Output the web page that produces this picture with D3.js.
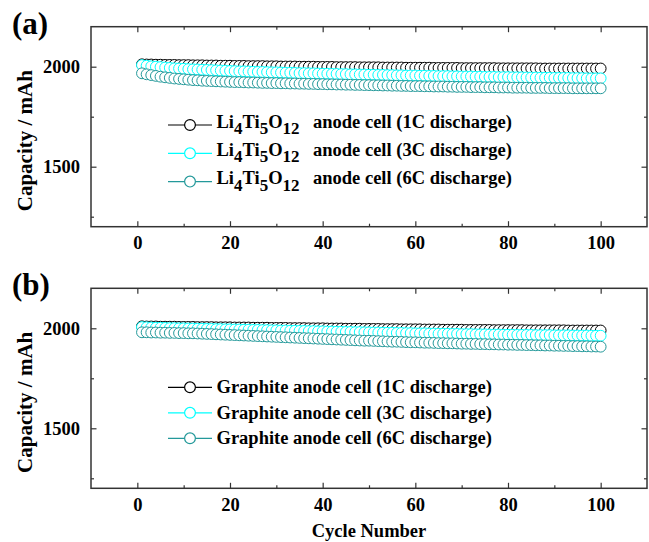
<!DOCTYPE html>
<html>
<head>
<meta charset="utf-8">
<script src="https://cdn.jsdelivr.net/npm/d3@7"></script>
<style>
  html, body { margin: 0; padding: 0; background: #fff; }
  svg text { font-family: "Liberation Serif", "Times New Roman", serif; font-weight: bold; fill: #000; }
</style>
</head>
<body>
<svg id="chart" width="649" height="542"></svg>
<script>
// ---------------- data ----------------
const cycles = d3.range(1, 101);

const xTicksMajor = [0, 20, 40, 60, 80, 100];
const xTicksMinor = [10, 30, 50, 70, 90];
const yTicksMajor = [1500, 2000];
const yTicksMinor = [1250, 1750];

const panelLabels = ["(a)", "(b)"];
const seriesColors = ["#000000", "#00ffff", "#23999a"];
const rateLabels = ["(1C discharge)", "(3C discharge)", "(6C discharge)"];

// Panel (a): Li4Ti5O12 anode cell
const ltoC1 = [
  2012,2011,2011,2010,2010,2009,2009,2009,2008,2008,
  2008,2007,2007,2007,2006,2006,2006,2005,2005,2005,
  2004,2004,2004,2003,2003,2003,2003,2002,2002,2002,
  2001,2001,2001,2001,2000,2000,2000,2000,1999,1999,
  1999,1999,1998,1998,1998,1998,1998,1997,1997,1997,
  1997,1997,1996,1996,1996,1996,1996,1995,1995,1995,
  1995,1995,1995,1994,1994,1994,1994,1994,1994,1993,
  1993,1993,1993,1993,1993,1993,1993,1992,1992,1992,
  1992,1992,1992,1992,1992,1992,1991,1991,1991,1991,
  1991,1991,1991,1991,1991,1991,1991,1991,1991,1991
];
const ltoC3 = [
  2008,2005,2002,2000,1998,1996,1994,1992,1991,1990,
  1988,1987,1986,1985,1984,1983,1982,1981,1980,1979,
  1978,1977,1977,1976,1975,1974,1974,1973,1972,1972,
  1971,1970,1970,1969,1968,1968,1967,1967,1966,1965,
  1965,1964,1964,1963,1963,1962,1962,1961,1961,1960,
  1960,1959,1959,1958,1958,1957,1957,1956,1956,1956,
  1955,1955,1954,1954,1953,1953,1953,1952,1952,1951,
  1951,1951,1950,1950,1949,1949,1949,1948,1948,1948,
  1947,1947,1947,1946,1946,1946,1945,1945,1945,1944,
  1944,1944,1944,1943,1943,1943,1942,1942,1942,1942
];
const ltoC6 = [
  1967,1962,1958,1954,1950,1947,1944,1941,1939,1937,
  1935,1933,1932,1930,1929,1928,1927,1926,1925,1924,
  1923,1923,1922,1921,1921,1920,1919,1919,1918,1918,
  1917,1917,1916,1916,1915,1915,1914,1914,1913,1913,
  1912,1912,1911,1911,1910,1910,1909,1909,1908,1908,
  1907,1907,1906,1906,1905,1905,1904,1904,1903,1903,
  1903,1902,1902,1901,1901,1901,1900,1900,1899,1899,
  1899,1898,1898,1898,1897,1897,1897,1896,1896,1896,
  1895,1895,1895,1895,1894,1894,1894,1894,1893,1893,
  1893,1893,1893,1892,1892,1892,1892,1892,1892,1892
];

// Panel (b): Graphite anode cell
const grC1 = [
  2010,2009,2009,2009,2008,2008,2008,2008,2007,2007,
  2007,2007,2006,2006,2006,2006,2005,2005,2005,2005,
  2004,2004,2004,2004,2003,2003,2003,2003,2002,2002,
  2002,2002,2001,2001,2001,2001,2000,2000,2000,2000,
  1999,1999,1999,1999,1998,1998,1998,1998,1997,1997,
  1997,1997,1996,1996,1996,1996,1995,1995,1995,1995,
  1995,1994,1994,1994,1994,1993,1993,1993,1993,1993,
  1992,1992,1992,1992,1992,1992,1991,1991,1991,1991,
  1991,1991,1991,1990,1990,1990,1990,1990,1990,1990,
  1990,1990,1989,1989,1989,1989,1989,1989,1989,1989
];
const grC3 = [
  2006,2005,2004,2003,2003,2002,2001,2001,2000,2000,
  1999,1999,1998,1998,1997,1997,1996,1996,1995,1995,
  1994,1994,1993,1993,1992,1992,1991,1991,1990,1990,
  1989,1989,1988,1988,1987,1987,1986,1986,1985,1985,
  1984,1984,1983,1983,1982,1982,1981,1981,1980,1980,
  1979,1979,1978,1978,1978,1977,1977,1976,1976,1975,
  1975,1975,1974,1974,1973,1973,1973,1972,1972,1971,
  1971,1971,1970,1970,1970,1969,1969,1969,1968,1968,
  1968,1967,1967,1967,1967,1966,1966,1966,1966,1965,
  1965,1965,1965,1964,1964,1964,1964,1963,1963,1963
];
const grC6 = [
  1980,1980,1979,1979,1978,1978,1977,1977,1976,1976,
  1975,1975,1974,1973,1972,1971,1970,1969,1968,1967,
  1966,1965,1964,1963,1962,1961,1960,1959,1958,1957,
  1956,1955,1954,1953,1952,1951,1950,1949,1948,1947,
  1946,1945,1944,1943,1942,1941,1940,1939,1938,1938,
  1937,1936,1935,1934,1933,1933,1932,1931,1930,1930,
  1929,1928,1928,1927,1926,1926,1925,1925,1924,1923,
  1923,1922,1922,1921,1921,1920,1920,1919,1919,1918,
  1918,1917,1917,1916,1916,1915,1915,1914,1914,1913,
  1913,1912,1912,1911,1911,1910,1910,1909,1909,1908
];

// ---------------- layout ----------------
const svg = d3.select("#chart");
const FS = 18.5;
const left = 91, right = 647;
const panels = [
  { top: 26.7, label: panelLabels[0], series: [ltoC1, ltoC3, ltoC6], kind: "lto", legendY: 125, legendStep: 28.3 },
  { top: 288.3, label: panelLabels[1], series: [grC1, grC3, grC6], kind: "gr", legendY: 387.3, legendStep: 25.5 }
];
const panelH = 200;

const x = d3.scaleLinear().domain([-10, 110]).range([left, right]);

panels.forEach((p, pi) => {
  const y = d3.scaleLinear().domain([1200, 2200]).range([p.top + panelH, p.top]);
  const g = svg.append("g");

  // series: lines + open circles
  p.series.forEach((vals, si) => {
    const data = cycles.map((c, i) => ({ c, v: vals[i] }));
    g.append("path")
      .datum(data)
      .attr("fill", "none")
      .attr("stroke", seriesColors[si])
      .attr("stroke-width", 1)
      .attr("d", d3.line().x(d => x(d.c)).y(d => y(d.v)));
    g.append("g").selectAll("circle").data(data).join("circle")
      .attr("cx", d => x(d.c))
      .attr("cy", d => y(d.v))
      .attr("r", 5.4)
      .attr("fill", "#fff")
      .attr("stroke", seriesColors[si])
      .attr("stroke-width", 1);
  });

  const axisStyle = sel => {
    sel.select(".domain").remove();
    sel.selectAll(".tick line").attr("stroke", "#333").attr("stroke-width", 1.2);
    sel.selectAll("text").style("font-size", FS + "px").style("font-family", "'Liberation Serif', serif").style("font-weight", "bold");
  };

  const bottom = p.top + panelH;
  g.append("g").attr("transform", `translate(0,${bottom})`)
    .call(d3.axisBottom(x).tickValues(xTicksMajor).tickSize(-5.5).tickPadding(9.5).tickFormat(d3.format("d")))
    .call(axisStyle);
  g.append("g").attr("transform", `translate(0,${bottom})`)
    .call(d3.axisBottom(x).tickValues(xTicksMinor).tickSize(-3).tickFormat(""))
    .call(axisStyle);
  g.append("g").attr("transform", `translate(0,${p.top})`)
    .call(d3.axisTop(x).tickValues(xTicksMajor).tickSize(-5.5).tickFormat(""))
    .call(axisStyle);
  g.append("g").attr("transform", `translate(0,${p.top})`)
    .call(d3.axisTop(x).tickValues(xTicksMinor).tickSize(-3).tickFormat(""))
    .call(axisStyle);
  g.append("g").attr("transform", `translate(${left},0)`)
    .call(d3.axisLeft(y).tickValues(yTicksMajor).tickSize(-5.5).tickPadding(11).tickFormat(d3.format("d")))
    .call(axisStyle);
  g.append("g").attr("transform", `translate(${left},0)`)
    .call(d3.axisLeft(y).tickValues(yTicksMinor).tickSize(-3).tickFormat(""))
    .call(axisStyle);
  g.append("g").attr("transform", `translate(${right},0)`)
    .call(d3.axisRight(y).tickValues(yTicksMajor).tickSize(-5.5).tickFormat(""))
    .call(axisStyle);
  g.append("g").attr("transform", `translate(${right},0)`)
    .call(d3.axisRight(y).tickValues(yTicksMinor).tickSize(-3).tickFormat(""))
    .call(axisStyle);

  g.append("rect")
    .attr("x", left).attr("y", p.top)
    .attr("width", right - left).attr("height", panelH)
    .attr("fill", "none").attr("stroke", "#333").attr("stroke-width", 1.5);

  svg.append("text")
    .attr("x", 12).attr("y", p.top + 7)
    .style("font-size", "31px")
    .text(p.label);

  svg.append("text")
    .attr("transform", `translate(32,${p.top + panelH / 2 + 14}) rotate(-90)`)
    .attr("text-anchor", "middle")
    .style("font-size", "21px")
    .text("Capacity / mAh");

  rateLabels.forEach((lab, si) => {
    const ly = p.legendY + si * p.legendStep;
    svg.append("line")
      .attr("x1", 168).attr("x2", 212).attr("y1", ly).attr("y2", ly)
      .attr("stroke", seriesColors[si]).attr("stroke-width", 1.2);
    svg.append("circle")
      .attr("cx", 190).attr("cy", ly).attr("r", 5.4)
      .attr("fill", "#fff").attr("stroke", seriesColors[si]).attr("stroke-width", 1.2);
    if (p.kind === "lto") {
      const t = svg.append("text").attr("x", 216.5).attr("y", ly + 2.5).style("font-size", FS + "px");
      t.append("tspan").text("Li");
      t.append("tspan").attr("dy", 6.5).style("font-size", "17px").text("4");
      t.append("tspan").attr("dy", -6.5).text("Ti");
      t.append("tspan").attr("dy", 6.5).style("font-size", "17px").text("5");
      t.append("tspan").attr("dy", -6.5).text("O");
      t.append("tspan").attr("dy", 6.5).style("font-size", "17px").text("12");
      t.append("tspan").attr("dy", -6.5).attr("x", 313).text("anode cell " + lab);
    } else {
      svg.append("text").attr("x", 216.5).attr("y", ly + 6).style("font-size", FS + "px")
        .text("Graphite anode cell " + lab);
    }
  });
});

svg.append("text")
  .attr("x", (left + right) / 2).attr("y", 537)
  .attr("text-anchor", "middle")
  .style("font-size", FS + "px")
  .text("Cycle Number");
</script>
</body>
</html>
